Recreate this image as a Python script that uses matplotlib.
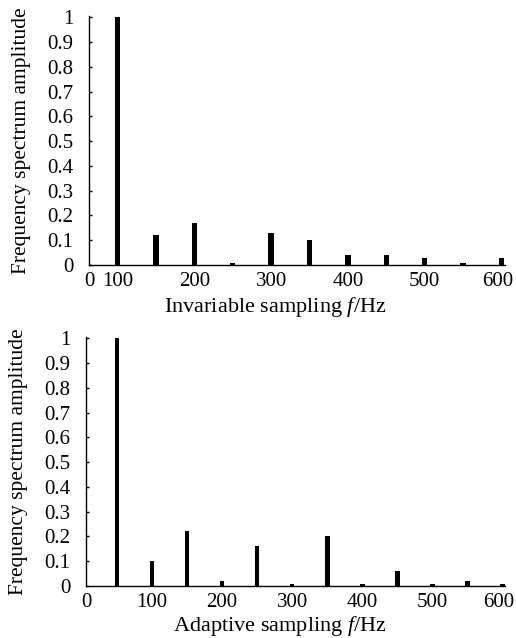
import matplotlib
matplotlib.use("Agg")
import matplotlib.pyplot as plt
from matplotlib.transforms import ScaledTranslation

plt.rcParams['font.family'] = ['Liberation Serif', 'DejaVu Serif']
plt.rcParams['mathtext.fontset'] = 'custom'
plt.rcParams['mathtext.it'] = 'Liberation Serif:italic'
plt.rcParams['mathtext.rm'] = 'Liberation Serif'

# Invariable sampling spectrum
freq_inv = [100, 150, 200, 250, 300, 350, 400, 450, 500, 550, 600]
amp_inv = [1.0, 0.12, 0.17, 0.01, 0.13, 0.10, 0.04, 0.04, 0.03, 0.008, 0.03]

# Adaptive sampling spectrum
freq_ada = [50, 100, 150, 200, 250, 300, 350, 400, 450, 500, 550, 600]
amp_ada = [1.0, 0.10, 0.22, 0.02, 0.16, 0.01, 0.20, 0.01, 0.06, 0.01, 0.02, 0.01]

xtick_vals = [100, 200, 300, 400, 500, 600]
ytick_vals = [0, 0.1, 0.2, 0.3, 0.4, 0.5, 0.6, 0.7, 0.8, 0.9, 1.0]
ytick_labels = ['0', '0.1', '0.2', '0.3', '0.4', '0.5', '0.6', '0.7', '0.8', '0.9', '1']

TICK_FS = 15
LABEL_FS = 16

fig = plt.figure(figsize=(5.16, 6.38), dpi=100)

W, H = 516, 638
def rect(l, t, r, b):
    return [l / W, 1 - b / H, (r - l) / W, (b - t) / H]

ax1 = fig.add_axes(rect(89, 16, 505, 265))
ax2 = fig.add_axes(rect(86, 337, 505, 586))

def style(ax, xmin, xmax, xlabel, label_xy):
    ax.set_ylim(0, 1.005)
    ax.set_xlim(xmin, xmax)
    ax.set_yticks(ytick_vals)
    ax.set_yticklabels(ytick_labels)
    ax.set_xticks([xmin] + xtick_vals)
    ax.set_xticklabels(['0'] + [str(v) for v in xtick_vals])
    ax.tick_params(axis='both', labelsize=TICK_FS)
    ax.tick_params(axis='y', direction='in', length=2.5, width=1, pad=11)
    ax.tick_params(axis='x', length=0, pad=5)
    for s in ['top', 'right']:
        ax.spines[s].set_visible(False)
    for s in ['left', 'bottom']:
        ax.spines[s].set_linewidth(1.0)
        ax.spines[s].set_color('black')
    ax.set_ylabel('Frequency spectrum amplitude', fontsize=15.5, labelpad=12)
    ax.set_xlabel(xlabel, fontsize=LABEL_FS)
    ax.xaxis.label.set_va('baseline')
    ax.xaxis.set_label_coords(*label_xy)
    last = ax.get_xticklabels()[-1]
    last.set_transform(last.get_transform() + ScaledTranslation(-3.5 / 100, 0, fig.dpi_scale_trans))

ax1.bar(freq_inv, amp_inv, width=7, color='black')
style(ax1, 63, 604.5, 'Invariable sampling $f$/Hz', (0.448, -0.189))

ax2.bar(freq_ada, amp_ada, width=6.5, color='black')
style(ax2, 6, 603.5, 'Adaptive sampling $f$/Hz', (0.464, -0.181))

fig.savefig('out.png', dpi=100)
